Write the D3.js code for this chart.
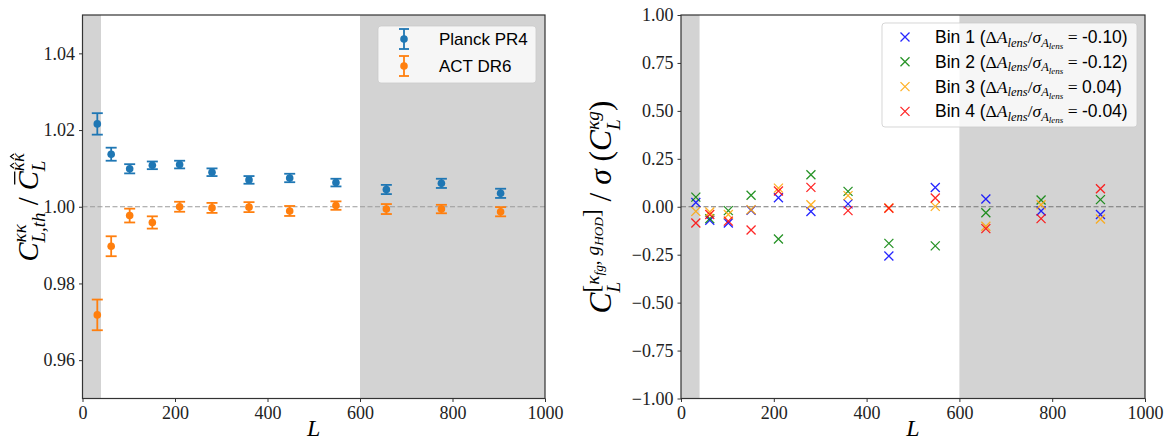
<!DOCTYPE html>
<html>
<head>
<meta charset="utf-8">
<script src="https://cdn.jsdelivr.net/npm/d3@7"></script>
<style>
  body { margin: 0; background: #fff; }
  svg { display: block; }
</style>
</head>
<body>
<svg id="fig" width="1169" height="441"></svg>
<script>
// ---- data ----
const ells = [32, 62, 102, 151, 210, 280, 360, 448, 548, 657, 776, 904];

const planckRatio = [1.0216, 1.0137, 1.0099, 1.0108, 1.0110, 1.0090, 1.0070, 1.0075, 1.0063, 1.0045, 1.0061, 1.0035];
const planckErr   = [0.0028, 0.0017, 0.0012, 0.0010, 0.0010, 0.0010, 0.0010, 0.0011, 0.0010, 0.0012, 0.0012, 0.0012];
const actRatio    = [0.9718, 0.9897, 0.9977, 0.9959, 1.0000, 0.9997, 0.9999, 0.9989, 1.0003, 0.9994, 0.9994, 0.9987];
const actErr      = [0.0040, 0.0026, 0.0018, 0.0016, 0.0013, 0.0013, 0.0013, 0.0013, 0.0011, 0.0013, 0.0011, 0.0012];

const bin1 = [0.022, -0.070, -0.085, -0.018, 0.047, -0.025, 0.015, -0.257, 0.100, 0.040, -0.022, -0.040];
const bin2 = [0.050, -0.062, -0.020, 0.060, -0.168, 0.167, 0.080, -0.191, -0.204, -0.031, 0.035, 0.037];
const bin3 = [-0.024, -0.027, -0.040, -0.016, 0.097, 0.010, 0.058, -0.006, 0.002, -0.102, 0.010, -0.064];
const bin4 = [-0.085, -0.040, -0.075, -0.121, 0.082, 0.101, -0.020, -0.008, 0.046, -0.114, -0.062, 0.094];
const binNames  = ["Bin 1", "Bin 2", "Bin 3", "Bin 4"];
const binShifts = ["-0.10", "-0.12", "0.04", "-0.04"];
const binColors = ["#0000ff", "#008000", "#ffa500", "#ff0000"];

const ratioTicks = [0.96, 0.98, 1.00, 1.02, 1.04];
const snrTicks   = [-1.00, -0.75, -0.50, -0.25, 0.00, 0.25, 0.50, 0.75, 1.00];
const ellTicks   = [0, 200, 400, 600, 800, 1000];
const maskedRanges = [[0, 40], [600, 1000]];

// ---- layout ----
const svg = d3.select("#fig");
const plotTop = 15, plotBottom = 398.5;
const SERIF = "'Liberation Serif', 'DejaVu Serif', serif";
const SANS  = "'Liberation Sans', 'DejaVu Sans', sans-serif";
const SPINE = "#333";

// lay out a run of text pieces horizontally (with optional sup/sub stacks)
function layoutMath(g, pieces) {
  let x = 0;
  function place(p, x0) {
    const y0 = p.dy || 0;
    const t = g.append("text")
      .attr("x", x0).attr("y", y0)
      .style("font-family", p.f === "sans" ? SANS : SERIF)
      .style("font-style", p.it ? "italic" : "normal")
      .style("font-size", p.s + "px")
      .style("white-space", "pre")
      .attr("fill", "#000")
      .text(p.t);
    const w = t.node().getComputedTextLength();
    if (p.bar) {
      const yb = y0 - p.s * 0.80;
      g.append("line")
        .attr("x1", x0 + w * 0.3).attr("x2", x0 + w * 0.98)
        .attr("y1", yb).attr("y2", yb)
        .attr("stroke", "#000").attr("stroke-width", p.s * 0.045);
    }
    if (p.hat) {
      const cxh = x0 + w * 0.6, yh = y0 - p.s * 0.55, hw = w * 0.28, hh = p.s * 0.18;
      g.append("path")
        .attr("d", `M${cxh - hw},${yh}L${cxh},${yh - hh}L${cxh + hw},${yh}`)
        .attr("fill", "none").attr("stroke", "#000").attr("stroke-width", p.s * 0.06);
    }
    return w + (p.pad || 0);
  }
  for (const p of pieces) {
    if (p.stack) {
      let wmax = 0;
      for (const row of p.stack) {
        let xr = x;
        for (const q of row) xr += place(q, xr);
        wmax = Math.max(wmax, xr - x);
      }
      x += wmax;
    } else {
      x += place(p, x);
    }
  }
  return x;
}

// rotated label centred at (cx, cy), scaled to span the given length
function rotatedLabel(pieces, cx, cy, length) {
  const outer = svg.append("g");
  const inner = outer.append("g");
  layoutMath(inner, pieces);
  const bb = inner.node().getBBox();
  const k = length / bb.width;
  inner.attr("transform", `scale(${k}) translate(${-bb.x - bb.width / 2},${-bb.y - bb.height / 2})`);
  outer.attr("transform", `translate(${cx},${cy}) rotate(-90)`);
}

function drawFrame(g, x, y, xTicks, yTicks, yFmt) {
  const [x0, x1] = x.range();
  // masked multipole ranges
  g.selectAll("rect.mask").data(maskedRanges).join("rect")
    .attr("class", "mask")
    .attr("x", d => x(d[0])).attr("width", d => x(d[1]) - x(d[0]))
    .attr("y", plotTop).attr("height", plotBottom - plotTop)
    .attr("fill", "#d3d3d3");

  const ax = g.append("g").attr("transform", `translate(0,${plotBottom})`)
    .call(d3.axisBottom(x).tickValues(xTicks).tickSize(3.5).tickPadding(4).tickFormat(d3.format("d")));
  const ay = g.append("g").attr("transform", `translate(${x0},0)`)
    .call(d3.axisLeft(y).tickValues(yTicks).tickSize(3.5).tickPadding(4).tickFormat(yFmt));
  for (const a of [ax, ay]) {
    a.attr("font-family", null).attr("font-size", null);
    a.select(".domain").remove();
    a.selectAll("line").attr("stroke", SPINE).attr("stroke-width", 1);
    a.selectAll("text")
      .style("font-family", SERIF).style("font-size", "18px").attr("fill", "#222");
  }
  return () => g.append("rect")
    .attr("x", x0).attr("y", plotTop).attr("width", x1 - x0).attr("height", plotBottom - plotTop)
    .attr("fill", "none").attr("stroke", SPINE).attr("stroke-width", 1.2);
}

// ---- left panel: lensing auto-spectrum ratio ----
const xA = d3.scaleLinear().domain([0, 1000]).range([82.5, 545]);
const yA = d3.scaleLinear().domain([0.95, 1.05]).range([plotBottom, plotTop]);
const gA = svg.append("g");
const closeA = drawFrame(gA, xA, yA, ellTicks, ratioTicks, d3.format(".2f"));

gA.append("line")
  .attr("x1", xA(0)).attr("x2", xA(1000)).attr("y1", yA(1)).attr("y2", yA(1))
  .attr("stroke", "#9a9a9a").attr("stroke-width", 1.2).attr("stroke-dasharray", "5,2.5");

function errorSeries(g, vals, errs, color) {
  const s = g.append("g").attr("stroke", color).attr("fill", color);
  vals.forEach((v, i) => {
    const cx = xA(ells[i]);
    const lo = yA(v - errs[i]), hi = yA(v + errs[i]);
    s.append("line").attr("x1", cx).attr("x2", cx).attr("y1", lo).attr("y2", hi).attr("stroke-width", 1.8);
    s.append("line").attr("x1", cx - 5.5).attr("x2", cx + 5.5).attr("y1", lo).attr("y2", lo).attr("stroke-width", 1.8);
    s.append("line").attr("x1", cx - 5.5).attr("x2", cx + 5.5).attr("y1", hi).attr("y2", hi).attr("stroke-width", 1.8);
    s.append("circle").attr("cx", cx).attr("cy", yA(v)).attr("r", 3.8).attr("stroke", "none");
  });
}
errorSeries(gA, planckRatio, planckErr, "#1f77b4");
errorSeries(gA, actRatio, actErr, "#ff7f0e");
closeA();

// legend (left)
const legA = svg.append("g");
legA.append("rect").attr("x", 378).attr("y", 26).attr("width", 158).attr("height", 57).attr("rx", 3)
  .attr("fill", "#fff").attr("fill-opacity", 0.8).attr("stroke", "#cccccc").attr("stroke-opacity", 0.8);
[["Planck PR4", "#1f77b4", 39], ["ACT DR6", "#ff7f0e", 66]].forEach(([name, col, yy]) => {
  const mx = 404;
  legA.append("line").attr("x1", mx).attr("x2", mx).attr("y1", yy - 10).attr("y2", yy + 10).attr("stroke", col).attr("stroke-width", 1.8);
  legA.append("line").attr("x1", mx - 5).attr("x2", mx + 5).attr("y1", yy - 10).attr("y2", yy - 10).attr("stroke", col).attr("stroke-width", 1.8);
  legA.append("line").attr("x1", mx - 5).attr("x2", mx + 5).attr("y1", yy + 10).attr("y2", yy + 10).attr("stroke", col).attr("stroke-width", 1.8);
  legA.append("circle").attr("cx", mx).attr("cy", yy).attr("r", 3.8).attr("fill", col);
  legA.append("text").attr("x", 439).attr("y", yy + 6).style("font-family", SANS).style("font-size", "17px")
    .attr("fill", "#000").text(name);
});

// axis labels (left)
svg.append("text").attr("x", (xA(0) + xA(1000)) / 2).attr("y", 436).attr("text-anchor", "middle")
  .style("font-family", SERIF).style("font-style", "italic").style("font-size", "24px").text("L");
rotatedLabel([
  { t: "C", it: true, s: 24 },
  { stack: [[{ t: "κκ", it: true, s: 16, dy: -10 }], [{ t: "L,th", it: true, s: 16, dy: 6 }]] },
  { t: " / ", s: 24 },
  { t: "C", it: true, s: 24, bar: true },
  { stack: [[{ t: "κ", it: true, s: 16, dy: -11, hat: true }, { t: "κ", it: true, s: 16, dy: -11, hat: true }],
            [{ t: "L", it: true, s: 16, dy: 6 }]] }
], 28, 207, 109);

// ---- right panel: foreground bias over uncertainty ----
const xB = d3.scaleLinear().domain([0, 1000]).range([681, 1145]);
const yB = d3.scaleLinear().domain([-1, 1]).range([plotBottom, plotTop]);
const gB = svg.append("g");
const closeB = drawFrame(gB, xB, yB, ellTicks, snrTicks, d => d3.format(".2f")(d).replace("-", "\u2212"));

gB.append("line")
  .attr("x1", xB(0)).attr("x2", xB(1000)).attr("y1", yB(0)).attr("y2", yB(0))
  .attr("stroke", "#777").attr("stroke-width", 1.1).attr("stroke-dasharray", "5,2.5");

const crossPath = "M-4.5,-4.5L4.5,4.5M-4.5,4.5L4.5,-4.5";
[bin1, bin2, bin3, bin4].forEach((vals, b) => {
  gB.append("g").selectAll("path").data(vals).join("path")
    .attr("d", crossPath)
    .attr("transform", (d, i) => `translate(${xB(ells[i])},${yB(d)})`)
    .attr("fill", "none").attr("stroke", binColors[b]).attr("stroke-width", 1.3).attr("stroke-opacity", 0.85);
});
closeB();

// legend (right)
const legB = svg.append("g");
legB.append("rect").attr("x", 882).attr("y", 23).attr("width", 255).attr("height", 104).attr("rx", 3)
  .attr("fill", "#fff").attr("fill-opacity", 0.8).attr("stroke", "#cccccc").attr("stroke-opacity", 0.8);
binNames.forEach((name, b) => {
  const yy = 37 + b * 24.8;
  legB.append("path").attr("d", crossPath).attr("transform", `translate(905,${yy})`)
    .attr("fill", "none").attr("stroke", binColors[b]).attr("stroke-width", 1.3).attr("stroke-opacity", 0.85);
  const row = legB.append("g").attr("transform", `translate(935,${yy + 6})`);
  layoutMath(row, [
    { t: name + " (", f: "sans", s: 17.5 },
    { t: "Δ", s: 17.5 },
    { t: "A", it: true, s: 17.5 },
    { t: "lens", it: true, s: 12.5, dy: 3.5 },
    { t: "/", s: 17.5 },
    { t: "σ", it: true, s: 17.5 },
    { t: "A", it: true, s: 12.5, dy: 3.5 },
    { t: "lens", it: true, s: 9, dy: 6 },
    { t: " = ", s: 17.5 },
    { t: binShifts[b] + ")", f: "sans", s: 17.5 }
  ]);
});

// axis labels (right)
svg.append("text").attr("x", (xB(0) + xB(1000)) / 2).attr("y", 436).attr("text-anchor", "middle")
  .style("font-family", SERIF).style("font-style", "italic").style("font-size", "24px").text("L");
rotatedLabel([
  { t: "C", it: true, s: 26 },
  { stack: [
      [{ t: "[", s: 19, dy: -10 }, { t: "κ", it: true, s: 16, dy: -10 }, { t: "fg", it: true, s: 11, dy: -7 },
       { t: ", ", s: 16, dy: -10 }, { t: "g", it: true, s: 16, dy: -10 }, { t: "HOD", it: true, s: 11, dy: -7 },
       { t: "]", s: 19, dy: -10 }],
      [{ t: "L", it: true, s: 16, dy: 7 }]] },
  { t: " / ", s: 26 },
  { t: "σ", it: true, s: 26 },
  { t: " (", s: 26 },
  { t: "C", it: true, s: 26 },
  { stack: [[{ t: "κg", it: true, s: 16, dy: -10 }], [{ t: "L", it: true, s: 16, dy: 7 }]] },
  { t: ")", s: 26 }
], 601, 207, 213);
</script>
</body>
</html>
